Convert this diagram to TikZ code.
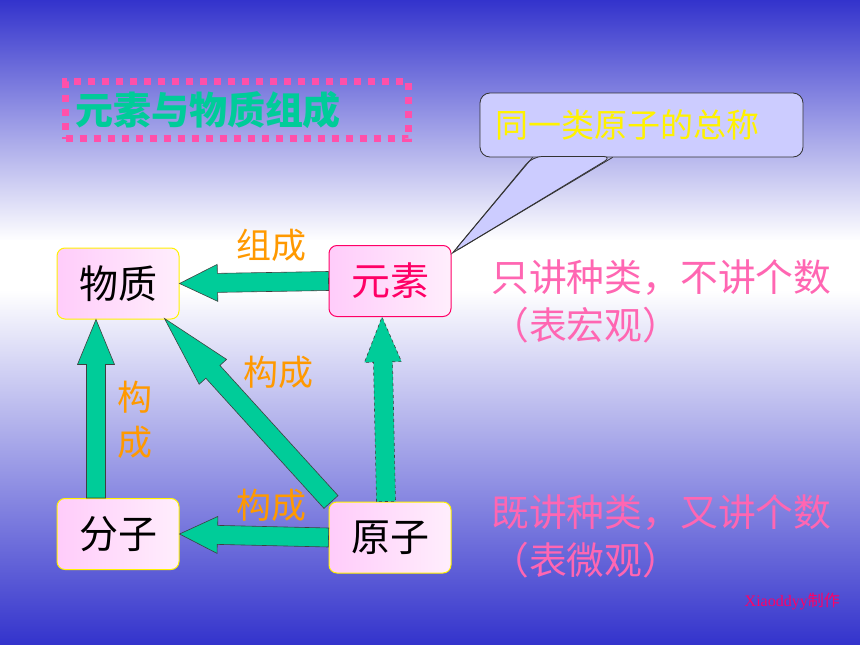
\documentclass[tikz,border=0pt]{standalone}
\usepackage{fontspec}
\setmainfont{Noto Sans CJK SC}
\newfontfamily\footfont{Liberation Serif}
\definecolor{cstblue}{RGB}{51,51,204}
\definecolor{cstgreen}{RGB}{0,204,153}
\definecolor{cstorange}{RGB}{255,153,0}
\definecolor{cstpink}{RGB}{255,102,178}
\definecolor{cstred}{RGB}{255,0,102}
\definecolor{cstdot}{RGB}{255,80,170}
\definecolor{cstcall}{RGB}{204,204,255}
\definecolor{cstbox}{RGB}{255,204,250}
\definecolor{cstboxl}{RGB}{255,238,252}
\usetikzlibrary{
	arrows.meta,
	positioning,
	calc
}
\tikzset{
  % node
	cstbox/.style      ={rounded corners=8, minimum width=122, minimum height=71, inner sep=0,
	                     left color=cstbox, right color=cstboxl, draw=yellow, line width=1,
	                     font=\fontsize{39}{42}\selectfont}, % 概念框
	cstlabel/.style    ={text=cstorange, inner sep=0, font=\fontsize{35}{45}\selectfont}, % 箭头文字
	cstnote/.style     ={text=cstpink, inner sep=0, anchor=west, font=\fontsize{37.8}{40}\selectfont}, % 右侧说明
	csttitle/.style    ={draw=cstdot, line width=7, dash pattern=on 7 off 7, minimum width=343,
	                     minimum height=57, inner xsep=9.5, text width=324, align=left,
	                     text=cstgreen, font=\fontsize{38}{40}\selectfont\bfseries}, % 标题虚框
	cstcall/.style     ={fill=cstcall, draw=black!80, line width=0.8, rounded corners=10,
	                     minimum width=323, minimum height=64, inner xsep=15, text width=293,
	                     align=left, text=yellow, font=\fontsize{33}{36}\selectfont}, % 标注框
  % arrow
	cstarrow/.style    ={fill=cstgreen, draw=black!75, line width=0.6} % 块状箭头
}
% block arrow: [style]{tail}{tip}{head length}
\newcommand{\cstblockarrow}[4][]{%
	\coordinate (ba-t) at (#2);
	\coordinate (ba-h) at (#3);
	\coordinate (ba-b) at ($(ba-h)!#4pt!(ba-t)$);
	\draw[cstarrow,#1] ($(ba-t)!9.5pt!90:(ba-h)$) -- ($(ba-b)!9.5pt!90:(ba-h)$)
		-- ($(ba-b)!18.5pt!90:(ba-h)$) -- (ba-h) -- ($(ba-b)!18.5pt!-90:(ba-h)$)
		-- ($(ba-b)!9.5pt!-90:(ba-h)$) -- ($(ba-t)!9.5pt!-90:(ba-h)$) -- cycle;
}
\begin{document}
\begin{tikzpicture}[x=1pt,y=-1pt]
	\useasboundingbox (0,0) rectangle (860,645);
	% 背景
	\shade[top color=cstblue, bottom color=white] (0,0) rectangle (860,241);
	\fill[white] (0,240) rectangle (860,291);
	\shade[top color=white, middle color=cstblue!30!white, bottom color=cstblue] (0,290) rectangle (860,645);
	% 标题
	\node[csttitle] (title) at (237,110) {元素与物质组成};
	% 概念
	\node[cstbox] (wuzhi) at (118,283.5) {物质};
	\node[cstbox,draw=cstred,text=cstred] (yuansu) at (390,281) {元素};
	\node[cstbox] (fenzi) at (118,534) {分子};
	\node[cstbox] (yuanzi) at (390,537.5) {原子};
	% 箭头
	\cstblockarrow{yuansu.west}{wuzhi.east}{38}
	\cstblockarrow{yuanzi.west}{fenzi.east}{38}
	\cstblockarrow{$(fenzi.north)+(-22,0)$}{$(wuzhi.south)+(-22,0)$}{45}
	\cstblockarrow[dashed]{$(yuanzi.north)+(-4,0)$}{$(yuansu.south)+(-8,0)$}{45}
	\cstblockarrow{$(yuanzi.north west)+(2.5,0.5)$}{$(wuzhi.south east)+(-15,-1)$}{72}
	\node[cstlabel] (lzu) at (271,245) {组成};
	\node[cstlabel] (lgou1) at (278,372) {构成};
	\node[cstlabel,align=center] (lgou2) at (135,420) {构\\成};
	\node[cstlabel] (lgou3) at (271,505) {构成};
	% 标注
	\node[cstcall] (call) at (641.5,125) {同一类原子的总称};
	\coordinate (tip) at ($(yuansu.north east)+(1,8)$);
	\fill[cstcall] ($(call.south west)+(53,-1)$) -- (tip) -- ($(call.south west)+(133,-1)$) -- cycle;
	\draw[black!80,line width=0.8] ($(call.south west)+(53,0)$) -- (tip) -- ($(call.south west)+(133,0)$);
	% 说明
	\node[cstnote] (macro) at (491,278) {只讲种类，不讲个数};
	\node[cstnote] (macro2) at (491,325) {（表宏观）};
	\node[cstnote] (micro) at (491,513) {既讲种类，又讲个数};
	\node[cstnote] (micro2) at (491,560) {（表微观）};
	\node[anchor=east,inner sep=0,text=cstred,font=\fontsize{16}{17}\selectfont] (foot) at (840,602) {{\footfont Xiaoddyy}制作};
\end{tikzpicture}
\end{document}
